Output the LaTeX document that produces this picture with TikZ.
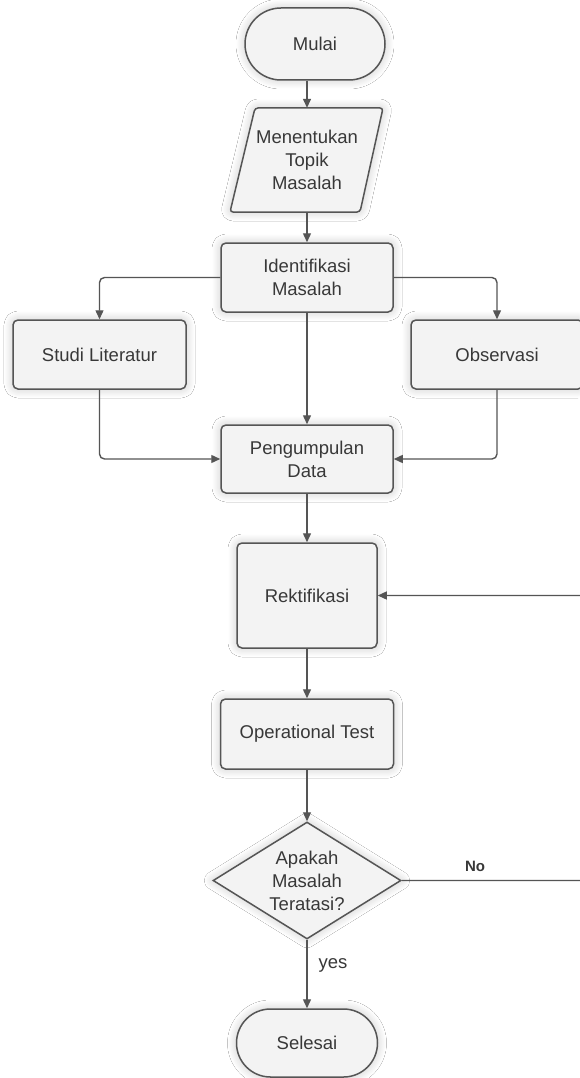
\documentclass[tikz,border=0pt]{standalone}
\usepackage{fontspec}
\setmainfont{Liberation Sans}
\usetikzlibrary{arrows.meta,shapes.geometric,shapes.misc,shadows.blur}
\definecolor{linecol}{HTML}{555555}
\definecolor{boxfill}{HTML}{F3F3F3}
\definecolor{txtcol}{HTML}{383838}
\begin{document}
\begin{tikzpicture}[x=1pt,y=-1pt,
  softshadow/.style={blur shadow={shadow xshift=0pt, shadow yshift=0pt, shadow blur radius=9pt, shadow blur steps=16, shadow opacity=22}},
  base/.style={draw=linecol, line width=1.5pt, fill=boxfill, text=txtcol,
    align=center, font=\fontsize{18.5}{23}\selectfont, inner sep=0pt, softshadow},
  procbox/.style={base, rectangle, rounded corners=5pt},
  termbox/.style={base, rounded rectangle},
  decbox/.style={base, diamond, aspect=1.6},
  arr/.style={draw=linecol, line width=1.4pt, rounded corners=5pt, -{Triangle[length=9pt,width=8pt]}},
  lbl/.style={text=txtcol, inner sep=0pt}
]
\useasboundingbox (0,0) rectangle (579,1078);
\fill[white] (0,0) rectangle (579,1078);

% nodes
\node[termbox, minimum width=140pt, minimum height=72pt] (mulai) at (315,44) {Mulai};

\path[draw=linecol, line width=1.5pt, fill=boxfill, rounded corners=3pt, softshadow]
  (255,108) -- (383,108) -- (360,212) -- (230,212) -- cycle;
\node[lbl, align=center, font=\fontsize{18.5}{23}\selectfont, minimum height=104pt, minimum width=120pt] (topik) at (307,160) {Menentukan\\Topik\\Masalah};

\node[procbox, minimum width=172pt, minimum height=69pt] (ident) at (307,277.5) {Identifikasi\\Masalah};
\node[procbox, minimum width=173pt, minimum height=69pt] (studi) at (99.5,354.5) {Studi Literatur};
\node[procbox, minimum width=172pt, minimum height=69pt] (obs) at (497,354.5) {Observasi};
\node[procbox, minimum width=172pt, minimum height=68pt] (data) at (307,459) {Pengumpulan\\Data};
\node[procbox, minimum width=140pt, minimum height=105pt] (rekt) at (307,595.5) {Rektifikasi};
\node[procbox, minimum width=173pt, minimum height=70pt] (optest) at (307,734) {Operational Test};
\node[decbox, minimum width=188pt, minimum height=117pt] (dec) at (307,880.5) {Apakah\\Masalah\\Teratasi?};
\node[termbox, minimum width=141pt, minimum height=68pt] (selesai) at (307,1043) {Selesai};

\coordinate (fb) at (586,880.5);

% connectors
\draw[arr] (topik.north |- mulai.south) -- (topik.north);
\draw[arr] (topik.south) -- (ident.north);
\draw[arr] (ident.west) -| (studi.north);
\draw[arr] (ident.east) -| (obs.north);
\draw[arr] (ident.south) -- (data.north);
\draw[arr] (studi.south) |- (data.west);
\draw[arr] (obs.south) |- (data.east);
\draw[arr] (data.south) -- (rekt.north);
\draw[arr] (rekt.south) -- (optest.north);
\draw[arr] (optest.south) -- (dec.north);
\draw[arr] (dec.east) -- (fb) |- (rekt.east);
\draw[arr] (dec.south) -- (selesai.north);

% labels
\node[lbl, font=\fontsize{15}{18}\selectfont\bfseries] (nolbl) at (475,866) {No};
\node[lbl, font=\fontsize{18.5}{23}\selectfont] (yeslbl) at (333,965) {yes};
\end{tikzpicture}
\end{document}
